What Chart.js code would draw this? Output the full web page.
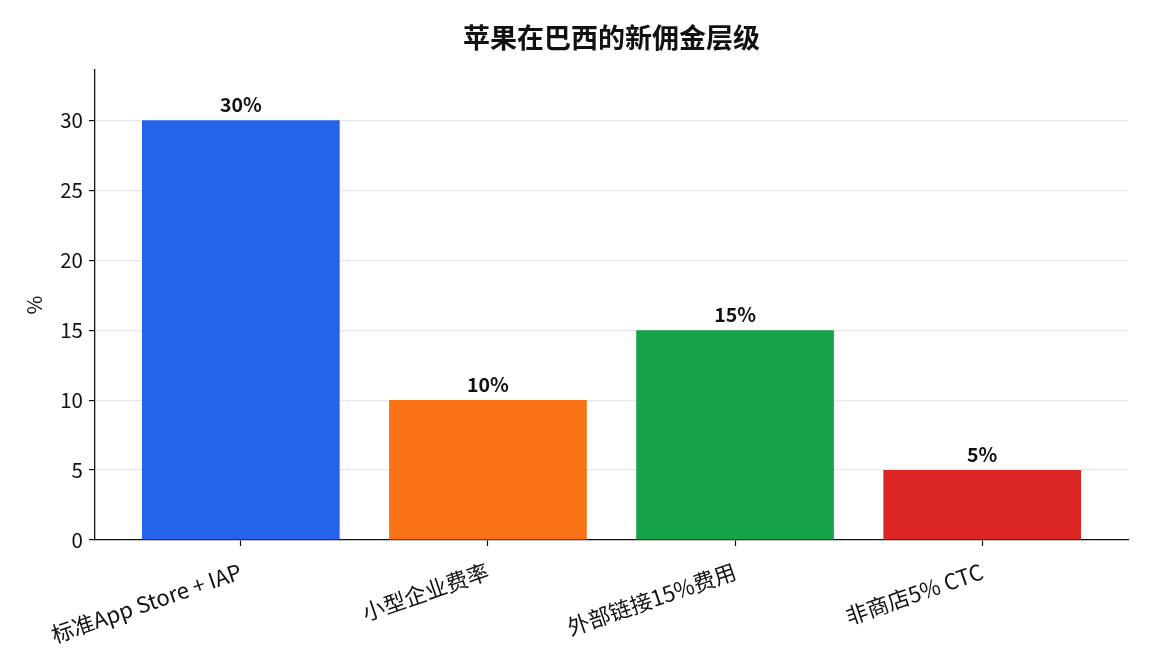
<!DOCTYPE html>
<html>
<head>
<meta charset="utf-8">
<script src="https://cdn.jsdelivr.net/npm/chart.js@4.4.1/dist/chart.umd.min.js"></script>
<style>
  html, body { margin: 0; padding: 0; background: #fff; }
  #wrap { width: 1152px; height: 672px; }
</style>
</head>
<body>
<div id="wrap"><canvas id="chart"></canvas></div>
<script>
// data
const chartTitle = '苹果在巴西的新佣金层级'
const categories = ['标准App Store + IAP', '小型企业费率', '外部链接15%费用', '非商店5% CTC']
const rates = [30, 10, 15, 5]
const barColors = ['#2563eb', '#f97316', '#16a34a', '#dc2626']
const yTicks = [0, 5, 10, 15, 20, 25, 30]

const fontFamily = "'Noto Sans CJK SC', 'Noto Sans', sans-serif"

// value labels above each bar + title centred over the plot area
const valueLabels = {
  id: 'valueLabels',
  afterDatasetsDraw(chart) {
    const ctx = chart.ctx
    const meta = chart.getDatasetMeta(0)
    ctx.save()
    ctx.font = 'bold 19.5px ' + fontFamily
    ctx.fillStyle = '#111'
    ctx.textAlign = 'center'
    ctx.textBaseline = 'alphabetic'
    meta.data.forEach(function (bar, i) {
      ctx.fillText(rates[i] + '%', bar.x, bar.y - 8.5)
    })
    ctx.restore()
  },
  afterDraw(chart) {
    const ctx = chart.ctx
    const area = chart.chartArea
    ctx.save()
    ctx.font = 'bold 27px ' + fontFamily
    ctx.fillStyle = '#111'
    ctx.textAlign = 'center'
    ctx.textBaseline = 'middle'
    ctx.fillText(chartTitle, (area.left + area.right) / 2, 38)
    ctx.restore()
  }
}

const points = rates.map(function (v, i) { return { x: i, y: v } })

new Chart(document.getElementById('chart'), {
  type: 'bar',
  data: {
    datasets: [{
      data: points,
      backgroundColor: barColors,
      borderWidth: 0,
      categoryPercentage: 0.8,
      barPercentage: 1.0
    }]
  },
  options: {
    responsive: true,
    maintainAspectRatio: false,
    animation: false,
    layout: { padding: { left: 0, right: 24, top: 70, bottom: 0 } },
    plugins: {
      legend: { display: false },
      tooltip: { enabled: false },
      title: { display: false }
    },
    scales: {
      x: {
        type: 'linear',
        offset: false,
        min: -0.59,
        max: 3.59,
        afterFit: function (scale) { scale.height = 132 },
        grid: { offset: false, drawOnChartArea: false, drawTicks: true, tickLength: 6, tickColor: '#111', tickWidth: 1.2 },
        border: { display: true, color: '#111', width: 1.3 },
        ticks: {
          stepSize: 1,
          includeBounds: false,
          autoSkip: false,
          minRotation: 19,
          maxRotation: 19,
          padding: 12,
          color: '#111',
          font: { family: fontFamily, size: 22 },
          callback: function (v) { return Number.isInteger(v) ? categories[v] : '' }
        }
      },
      y: {
        min: 0,
        max: 33.6,
        afterFit: function (scale) { scale.width = 95 },
        afterBuildTicks: function (scale) { scale.ticks = yTicks.map(function (v) { return { value: v } }) },
        grid: { color: '#e8e8e8', lineWidth: 1.2, drawTicks: true, tickLength: 6, tickColor: '#111', tickWidth: 1.2 },
        border: { display: true, color: '#111', width: 1.3 },
        title: {
          display: true,
          text: '%',
          color: '#111',
          font: { family: fontFamily, size: 20.5 },
          padding: { top: 22, bottom: 0 }
        },
        ticks: {
          padding: 6,
          color: '#111',
          font: { family: fontFamily, size: 20.5 }
        }
      }
    }
  },
  plugins: [valueLabels]
})
</script>
</body>
</html>
